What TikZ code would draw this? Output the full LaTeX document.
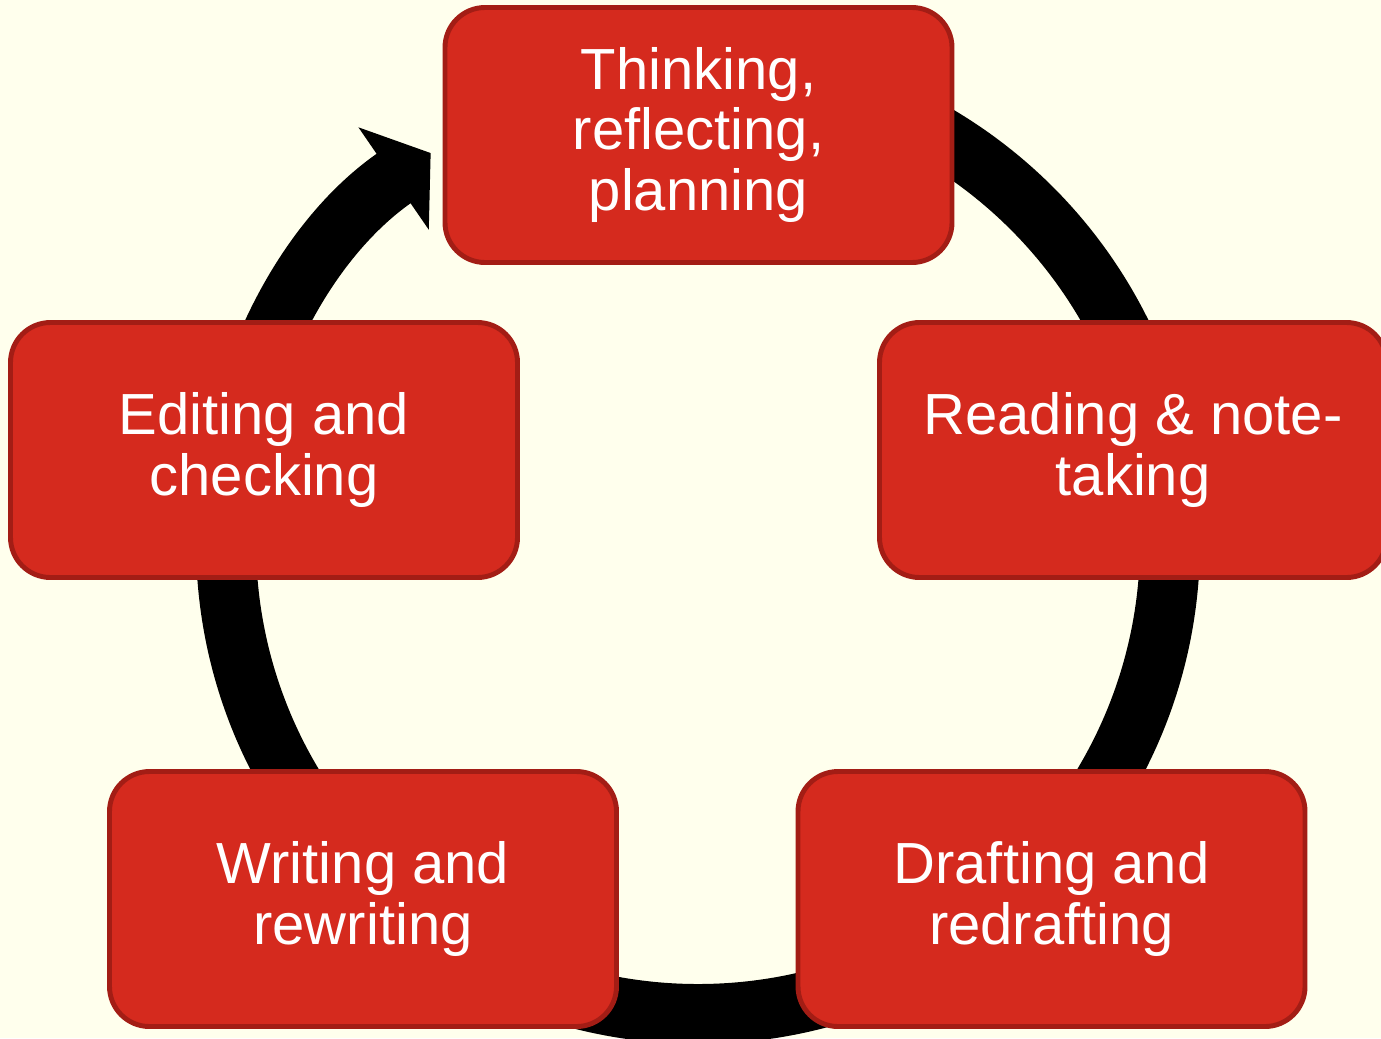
\documentclass[tikz,border=0pt]{standalone}
\usepackage{fontspec}
\setmainfont{Liberation Sans}
\usetikzlibrary{arrows.meta}
\definecolor{cream}{RGB}{255,255,237}
\definecolor{boxred}{RGB}{213,42,30}
\definecolor{boxrim}{RGB}{163,29,21}

\begin{document}
\begin{tikzpicture}[
		stage/.style={draw=boxrim, line width=1.4pt, fill=boxred, rounded corners=0.4cm,
			minimum width=5.07cm, minimum height=2.55cm, align=center, text=white,
			font=\fontsize{16.5}{17.2}\selectfont}
		]
		%\draw[help lines] (0,0) grid (14,11);
		\useasboundingbox (0,0) rectangle (13.81,10.38);
		\fill[cream] (0,0) rectangle (13.81,10.38);
		% the cycle ring, behind the boxes
		\coordinate (hub) at (6.98,4.96);
		\draw[line width=0.6cm, -{Triangle[length=0.45cm,width=1.22cm]}]
			([shift={(90:4.72)}]hub) arc[start angle=90, end angle=-235.5, radius=4.72];
		\node[stage] (think) at (6.985,9.03) {Thinking,\\reflecting,\\planning};
		\node[stage] (read) at (11.33,5.88) {Reading \& note-\\taking};
		\node[stage] (draft) at (10.515,1.39) {Drafting and\\redrafting};
		\node[stage] (write) at (3.63,1.39) {Writing and\\rewriting};
		\node[stage] (edit) at (2.64,5.88) {Editing and\\checking};
\end{tikzpicture}
\end{document}
